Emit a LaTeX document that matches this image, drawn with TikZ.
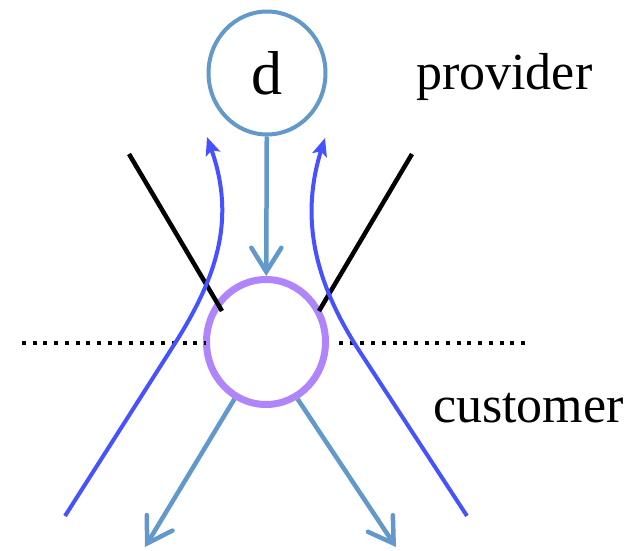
\documentclass[tikz,border=0pt]{standalone}
\usepackage{fontspec}
\setmainfont{Liberation Serif}
\usepackage{tikz}
\usetikzlibrary{positioning,shapes.geometric,arrows.meta}
\usepackage{xcolor}
\definecolor{linkblue}{RGB}{98, 152, 202}
\definecolor{pathblue}{RGB}{70, 82, 255}
\definecolor{hubpurple}{RGB}{176, 132, 250}

\begin{document}
\begin{tikzpicture}[x=1pt, y=1pt,
        % Node styles
        dest/.style={draw=linkblue, ellipse, line width=4pt, minimum width=117pt, minimum height=123pt, inner sep=0pt, font=\fontsize{62}{70}\selectfont},
        hub/.style={draw=hubpurple, ellipse, line width=7pt, minimum width=119pt, minimum height=125pt, inner sep=0pt},
        tag/.style={anchor=base west, inner sep=0pt, font=\fontsize{52}{60}\selectfont},
        % Line styles
        link/.style={draw=linkblue, line width=4.5pt, -{Straight Barb[length=24pt, width=30pt, line cap=round]}},
        route/.style={draw=pathblue, line width=4pt, -{Stealth[length=18pt, width=15pt, inset=4pt]}},
        wall/.style={draw=black, line width=4.5pt},
        border/.style={draw=black, line width=4pt, dash pattern=on 4pt off 6.7pt}
    ]
    \useasboundingbox (0, 0) rectangle (637, 550);

    % Provider and customer
    \node[dest] (d) at (267, 477) {d};
    \node[hub] (hub) at (266, 208) {};

    % Labels
    \node[tag] (prov) at (416, 460) {provider};
    \node[tag] (cust) at (433, 128) {customer};

    % Free ends
    \coordinate (borderLa) at (22, 207);
    \coordinate (borderLb) at (206, 207);
    \coordinate (borderRa) at (339, 207);
    \coordinate (borderRb) at (525, 207);
    \coordinate (wallLa) at (129, 396);
    \coordinate (wallLb) at (222, 239);
    \coordinate (wallRa) at (412, 396);
    \coordinate (wallRb) at (319, 239);
    \coordinate (outL) at (145, 3);
    \coordinate (outR) at (396, 3);
    \coordinate (routeLa) at (65, 34);
    \coordinate (routeLb) at (172, 202);
    \coordinate (routeLc) at (207, 413);
    \coordinate (routeRa) at (467, 34);
    \coordinate (routeRb) at (360, 198);
    \coordinate (routeRc) at (325, 412);

    % Border between provider and customer
    \draw[border] (borderLa) -- (borderLb);
    \draw[border] (borderRa) -- (borderRb);

    % Walls
    \draw[wall] (wallLa) -- (wallLb);
    \draw[wall] (wallRa) -- (wallRb);

    % Routes going up
    \draw[route] (routeLa) -- (routeLb) .. controls (215, 269) and (237, 328) .. (routeLc);
    \draw[route] (routeRa) -- (routeRb) .. controls (319, 261) and (298, 326) .. (routeRc);

    % Links going down
    \draw[link] (d) -- (hub);
    \draw[link] (hub.241) -- (outL);
    \draw[link] (hub.299) -- (outR);

\end{tikzpicture}
\end{document}
